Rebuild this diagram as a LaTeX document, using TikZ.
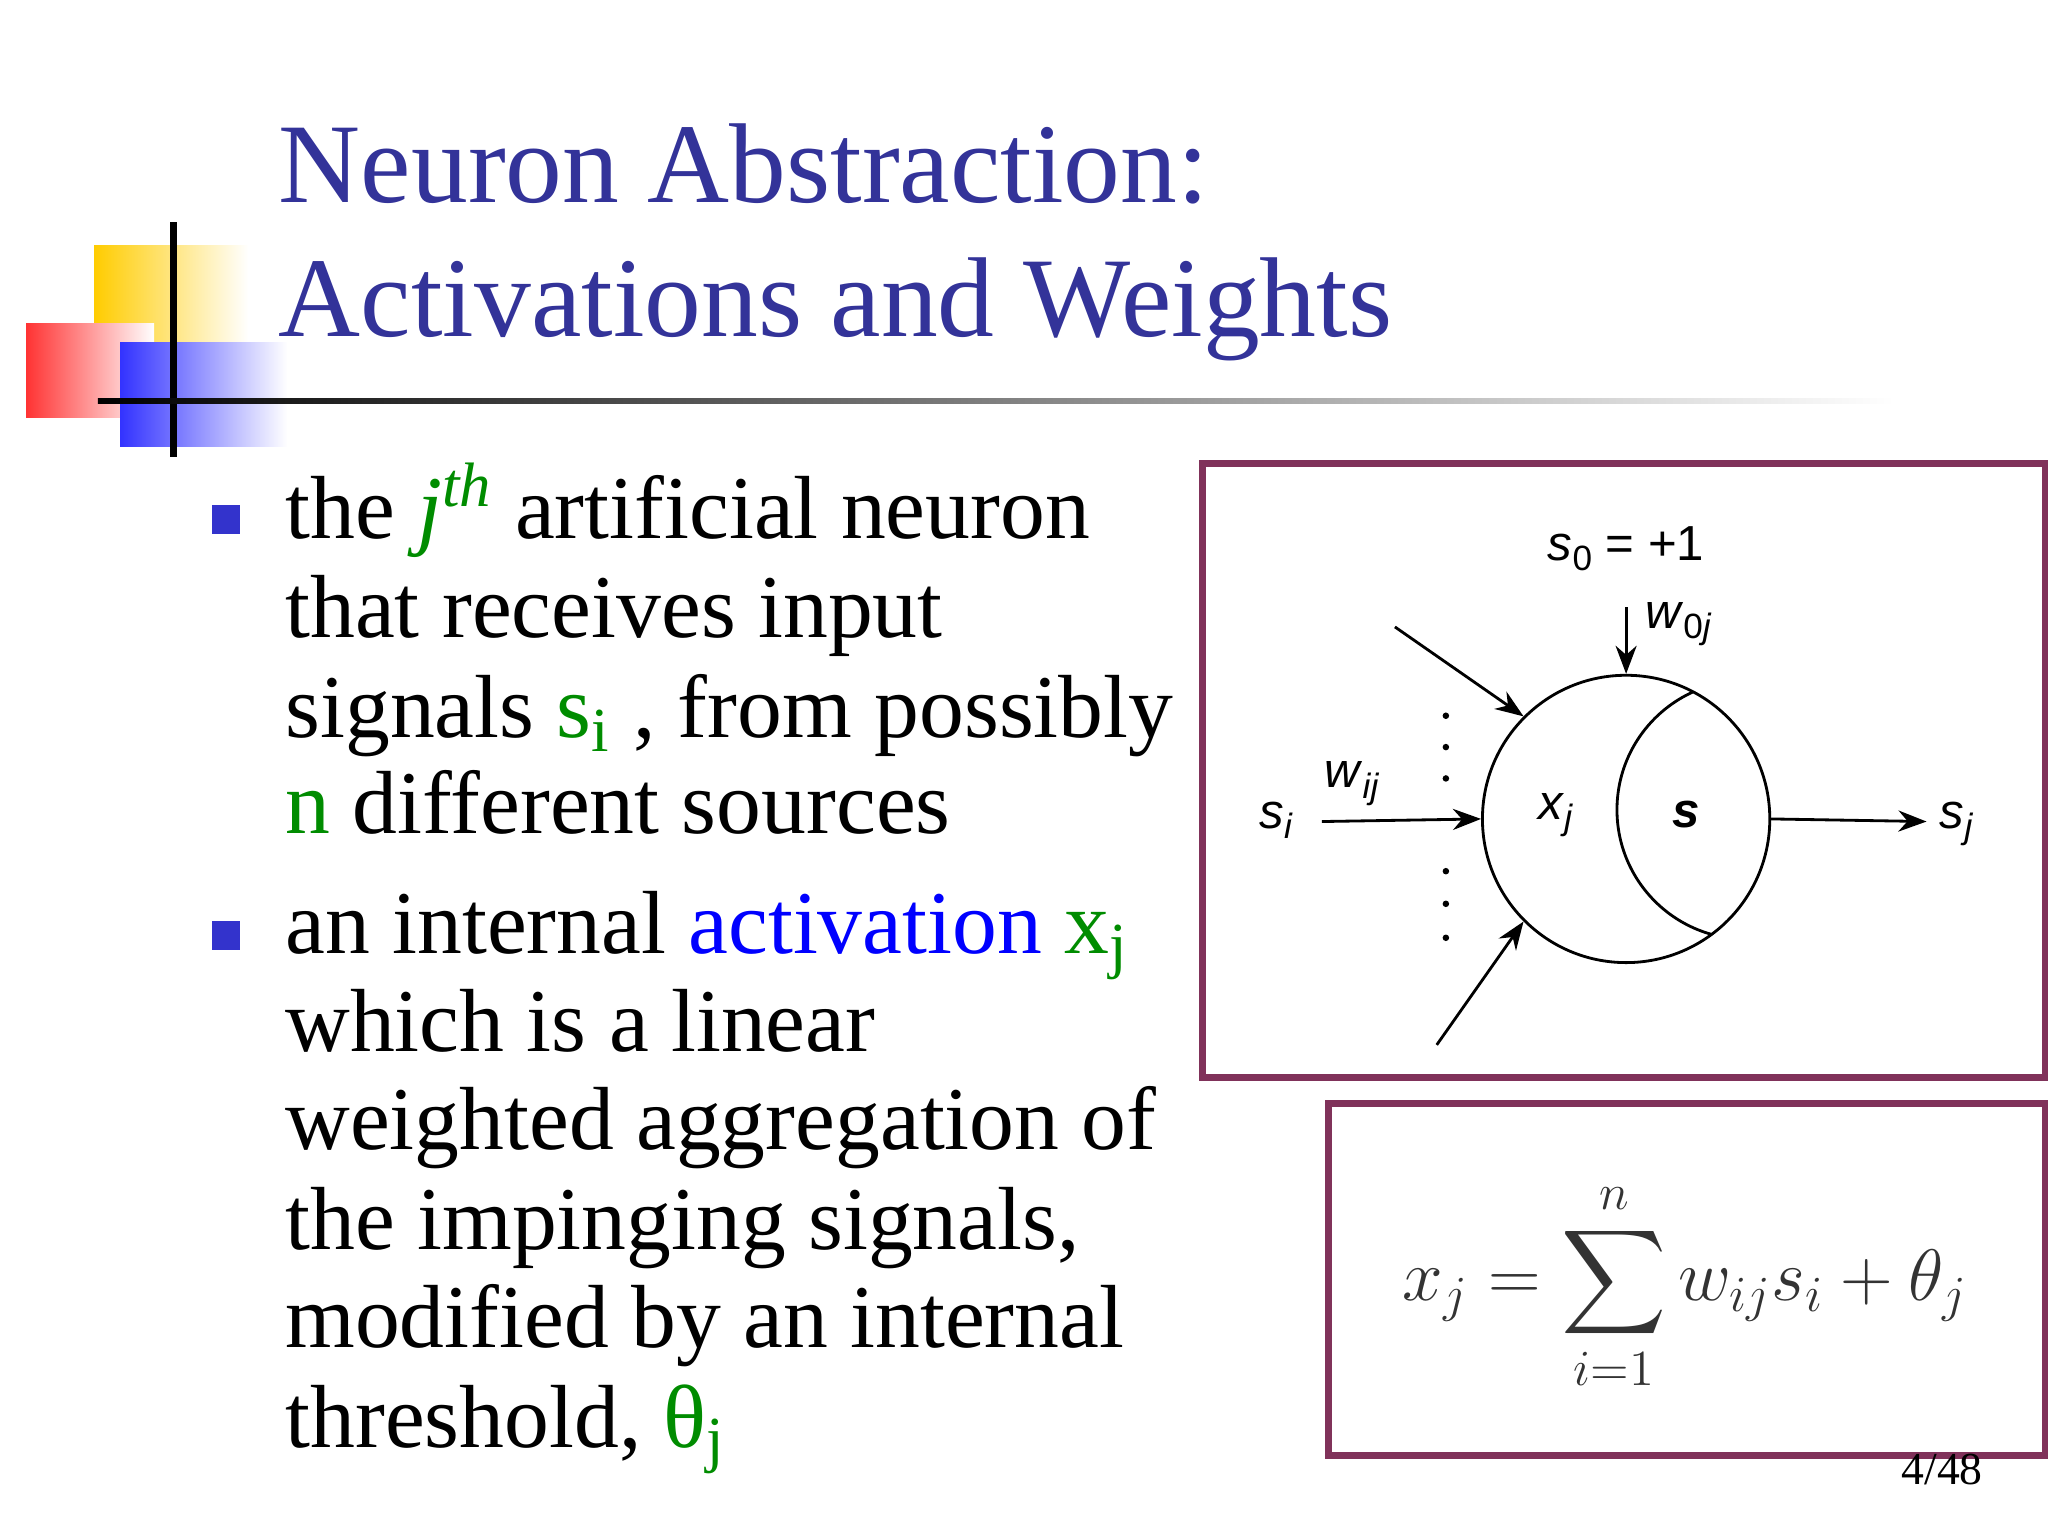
\documentclass[tikz,border=0pt]{standalone}
\usepackage{amsmath}
\usepackage{fontspec}
\setmainfont{Liberation Serif}
\newfontfamily\arial{Liberation Sans}
\usetikzlibrary{arrows.meta}
\definecolor{ttl}{RGB}{51,51,153}
\definecolor{grn}{RGB}{0,140,0}
\definecolor{boxc}{RGB}{128,50,90}
\definecolor{bul}{RGB}{51,51,204}
\definecolor{gold}{RGB}{255,204,0}
\begin{document}
\begin{tikzpicture}[x=0.013061cm,y=-0.013061cm,
 body/.style={anchor=base west,inner sep=0,font=\fontsize{25.5}{30}\selectfont},
 lab/.style={font=\arial\fontsize{14}{16}\selectfont,inner sep=0},
 arr/.style={-{Stealth[length=8pt,width=6pt]},line width=0.8pt}]
\useasboundingbox (0,0) rectangle (1568,1176);
% logo
\shade[left color=gold,right color=white] (72,188) rectangle (190,262);
\shade[left color=red!80,right color=white] (20,248) rectangle (118,320);
\shade[left color=blue!80,right color=white] (92,262) rectangle (220,342);
\draw[line width=2pt] (133,170) -- (133,350);
\shade[left color=black,right color=white] (75,305) rectangle (1450,309);
% title
\node[anchor=base west,inner sep=0,text=ttl,font=\fontsize{32.3}{38}\selectfont] (t1) at (213,155) {Neuron Abstraction:};
\node[anchor=base west,inner sep=0,text=ttl,font=\fontsize{32.3}{38}\selectfont] (t2) at (213,258) {Activations and Weights};
% bullets
\fill[bul] (162,387) rectangle (184,409);
\fill[bul] (162,705) rectangle (184,727);
\node[body] (l1) at (218,412) {the \textcolor{grn}{\textit{j}\textsuperscript{\textit{th}}} artificial neuron};
\node[body] (l2) at (218,488) {that receives input};
\node[body] (l3) at (218,565) {signals \textcolor{grn}{s\textsubscript{i}} , from possibly};
\node[body] (l4) at (218,638) {\textcolor{grn}{n} different sources};
\node[body] (m1) at (218,730) {an internal \textcolor{blue}{activation} \textcolor{grn}{x\textsubscript{j}}};
\node[body] (m2) at (218,805) {which is a linear};
\node[body] (m3) at (218,880) {weighted aggregation of};
\node[body] (m4) at (218,957) {the impinging signals,};
\node[body] (m5) at (218,1032) {modified by an internal};
\node[body] (m6) at (218,1108) {threshold, \textcolor{grn}{θ\textsubscript{j}}};
% diagram box
\draw[boxc,line width=2pt] (921,355) rectangle (1566,825);
\draw[boxc,line width=2pt] (1017,845) rectangle (1566,1114);
\node[circle,draw,line width=0.8pt,minimum size=220*0.013061cm,inner sep=0] (n) at (1245,627) {};
\begin{scope}
\clip (1245,627) circle (110);
\draw[line width=0.8pt] (1337,620) circle (99);
\end{scope}
\coordinate (a1) at (1068,480);
\coordinate (a2) at (1100,800);
\coordinate (a3) at (1012,629);
\coordinate (a4) at (1245,465);
\coordinate (a5) at (1475,629);
\draw[arr] (a1) -- (n.135);
\draw[arr] (a2) -- (n.225);
\draw[arr] (a3) -- (n.west);
\draw[arr] (a4) -- (n.north);
\draw[arr] (n.east) -- (a5);
\foreach \y in {548,572,596,667,692,718} \fill (1107,\y) circle (2.5);
\node[lab] (s0) at (1245,420) {\textit{s}\raisebox{-3pt}{\fontsize{10}{12}\selectfont 0} = +1};
\node[lab] (w0) at (1285,478) {\textit{w}\raisebox{-3pt}{\fontsize{10}{12}\selectfont 0\textit{j}}};
\node[lab] (wi) at (1035,600) {\textit{w}\raisebox{-3pt}{\fontsize{10}{12}\selectfont \textit{ij}}};
\node[lab] (si) at (977,628) {\textit{s}\raisebox{-3pt}{\fontsize{10}{12}\selectfont \textit{i}}};
\node[lab] (xj) at (1191,624) {\textit{x}\raisebox{-3pt}{\fontsize{10}{12}\selectfont \textit{j}}};
\node[lab] (s) at (1291,624) {\textbf{\textit{s}}};
\node[lab] (sj) at (1498,631) {\textit{s}\raisebox{-3pt}{\fontsize{10}{12}\selectfont \textit{j}}};
\node[inner sep=0,font=\fontsize{22}{28}\selectfont,text=black!80] (eq) at (1290,985) {$\displaystyle x_j=\sum_{i=1}^{n} w_{ij}s_i+\theta_j$};
\node[inner sep=0,font=\fontsize{13}{15}\selectfont] (pg) at (1487,1125) {4/48};
\end{tikzpicture}
\end{document}
